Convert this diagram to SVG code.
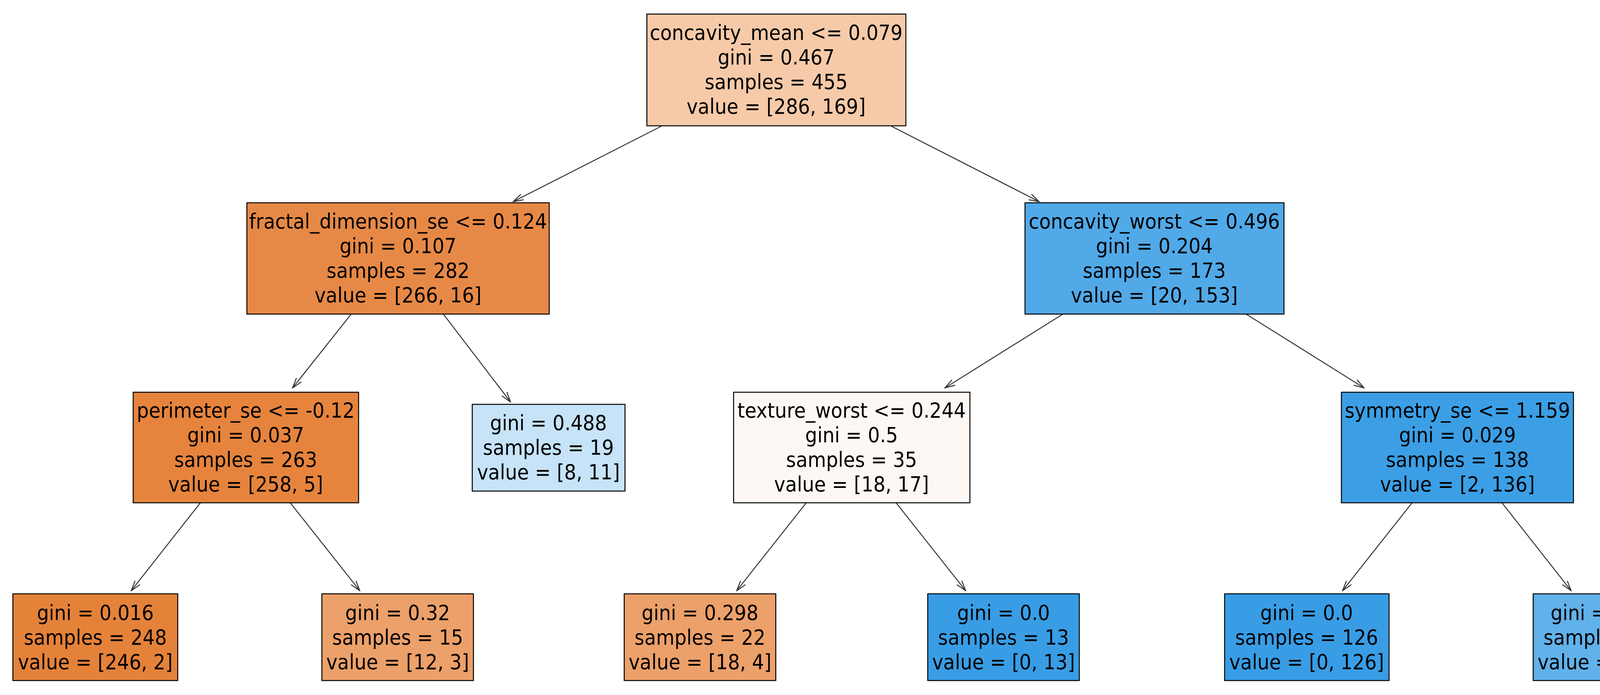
<svg xmlns="http://www.w3.org/2000/svg" width="4350" height="1779" viewBox="0 0 4350 1779">
<style>
rect{stroke:#000;stroke-width:2.5}
text{font-family:"DejaVu Sans Condensed","DejaVu Sans",sans-serif;font-size:54px;text-anchor:middle;fill:#000}
.e line{stroke:#333;stroke-width:2.5;marker-end:url(#a)}
</style>
<defs><marker id="a" markerWidth="30" markerHeight="20" refX="28" refY="10" orient="auto" markerUnits="userSpaceOnUse"><path d="M2,2 L28,10 L2,18" fill="none" stroke="#333" stroke-width="2.5"/></marker></defs>
<rect width="4350" height="1779" fill="#fff" style="stroke:none"/>
<g class="e">
<line x1="1693" y1="323" x2="1314" y2="516"/><line x1="2282" y1="323" x2="2660" y2="516"/>
<line x1="899" y1="804" x2="749" y2="993"/><line x1="1135" y1="804" x2="1307" y2="1029"/>
<line x1="2721" y1="804" x2="2419" y2="993"/><line x1="3190" y1="804" x2="3492" y2="993"/>
<line x1="513" y1="1287" x2="336" y2="1512"/><line x1="743" y1="1287" x2="921" y2="1512"/>
<line x1="2064" y1="1287" x2="1886" y2="1512"/><line x1="2294" y1="1287" x2="2472" y2="1512"/>
<line x1="3615" y1="1287" x2="3437" y2="1512"/><line x1="3845" y1="1287" x2="4022" y2="1512"/>
</g>
<g id="root"><rect x="1656" y="36" width="663" height="286" fill="#f6caa9"/>
<text x="1987" y="102">concavity_mean &lt;= 0.079</text><text x="1987" y="165">gini = 0.467</text><text x="1987" y="228">samples = 455</text><text x="1987" y="291">value = [286, 169]</text></g>
<g id="n1"><rect x="632" y="519" width="774" height="285" fill="#e78946"/>
<text x="1019" y="585">fractal_dimension_se &lt;= 0.124</text><text x="1019" y="648">gini = 0.107</text><text x="1019" y="711">samples = 282</text><text x="1019" y="774">value = [266, 16]</text></g>
<g id="n2"><rect x="2624" y="519" width="663" height="285" fill="#52a9e8"/>
<text x="2955" y="585">concavity_worst &lt;= 0.496</text><text x="2955" y="648">gini = 0.204</text><text x="2955" y="711">samples = 173</text><text x="2955" y="774">value = [20, 153]</text></g>
<g id="n3"><rect x="341" y="1004" width="577" height="283" fill="#e6843d"/>
<text x="629" y="1069">perimeter_se &lt;= -0.12</text><text x="629" y="1132">gini = 0.037</text><text x="629" y="1195">samples = 263</text><text x="629" y="1258">value = [258, 5]</text></g>
<g id="n4"><rect x="1209" y="1035" width="391" height="222" fill="#c6e3f8"/>
<text x="1404" y="1101">gini = 0.488</text><text x="1404" y="1164">samples = 19</text><text x="1404" y="1227">value = [8, 11]</text></g>
<g id="n5"><rect x="1878" y="1004" width="605" height="283" fill="#fef8f4"/>
<text x="2180" y="1069">texture_worst &lt;= 0.244</text><text x="2180" y="1132">gini = 0.5</text><text x="2180" y="1195">samples = 35</text><text x="2180" y="1258">value = [18, 17]</text></g>
<g id="n6"><rect x="3434" y="1004" width="594" height="283" fill="#3c9fe5"/>
<text x="3731" y="1069">symmetry_se &lt;= 1.159</text><text x="3731" y="1132">gini = 0.029</text><text x="3731" y="1195">samples = 138</text><text x="3731" y="1258">value = [2, 136]</text></g>
<g id="l1"><rect x="33" y="1520" width="422" height="222" fill="#e5823a"/>
<text x="244" y="1587">gini = 0.016</text><text x="244" y="1650">samples = 248</text><text x="244" y="1713">value = [246, 2]</text></g>
<g id="l2"><rect x="824" y="1520" width="388" height="222" fill="#eca06a"/>
<text x="1018" y="1587">gini = 0.32</text><text x="1018" y="1650">samples = 15</text><text x="1018" y="1713">value = [12, 3]</text></g>
<g id="l3"><rect x="1598" y="1520" width="388" height="222" fill="#eca06a"/>
<text x="1792" y="1587">gini = 0.298</text><text x="1792" y="1650">samples = 22</text><text x="1792" y="1713">value = [18, 4]</text></g>
<g id="l4"><rect x="2375" y="1520" width="388" height="222" fill="#399de5"/>
<text x="2569" y="1587">gini = 0.0</text><text x="2569" y="1650">samples = 13</text><text x="2569" y="1713">value = [0, 13]</text></g>
<g id="l5"><rect x="3135" y="1520" width="421" height="222" fill="#399de5"/>
<text x="3345" y="1587">gini = 0.0</text><text x="3345" y="1650">samples = 126</text><text x="3345" y="1713">value = [0, 126]</text></g>
<g id="l6"><rect x="3925" y="1520" width="389" height="222" fill="#61b1ea"/>
<text x="4119" y="1587">gini = 0.278</text><text x="4119" y="1650">samples = 12</text><text x="4119" y="1713">value = [2, 10]</text></g>
</svg>
